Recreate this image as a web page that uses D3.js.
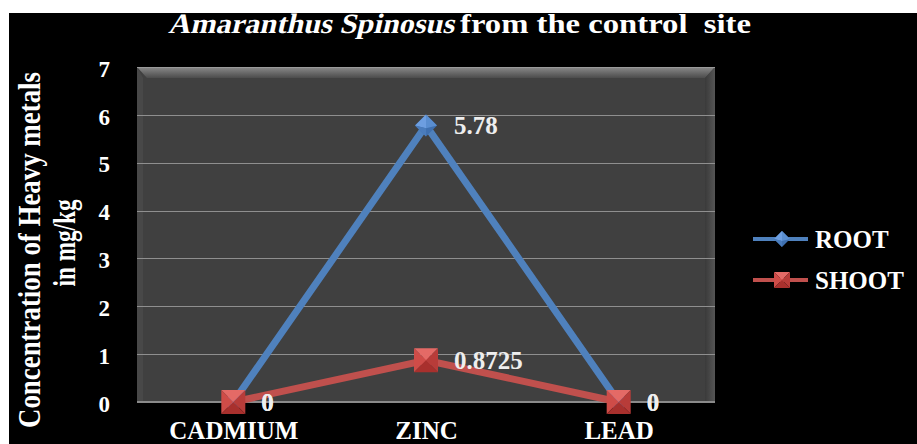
<!DOCTYPE html>
<html>
<head>
<meta charset="utf-8">
<script src="https://cdn.jsdelivr.net/npm/d3@7"></script>
<style>
  body { margin: 0; background: #fff; }
  text { font-family: "Liberation Serif", "Times New Roman", serif; font-weight: bold; }
</style>
</head>
<body>
<div id="chart"></div>
<script>
// Data
const metals = ["CADMIUM", "ZINC", "LEAD"]
const rootValues = [0, 5.78, 0]
const shootValues = [0, 0.8725, 0]
const seriesNames = ["ROOT", "SHOOT"]
const yTicks = [0, 1, 2, 3, 4, 5, 6, 7]

const width = 917, height = 444
const plot = { left: 137, right: 715, top: 67, bottom: 402 }
const colours = { ROOT: "#4f81bd", SHOOT: "#c0504d" }

const svg = d3.select("#chart").append("svg")
    .attr("width", width)
    .attr("height", height)

// black slide background (white margin on top / left like the picture)
svg.append("rect").attr("x", 9).attr("y", 13)
    .attr("width", width - 9).attr("height", height - 13)
    .attr("fill", "#000")

const defs = svg.append("defs")
const topGrad = defs.append("linearGradient").attr("id", "bevelTop")
    .attr("x1", 0).attr("y1", 0).attr("x2", 0).attr("y2", 1)
topGrad.append("stop").attr("offset", 0).attr("stop-color", "#8a8a8a")
topGrad.append("stop").attr("offset", 1).attr("stop-color", "#4c4c4c")
const sideGrad = defs.append("linearGradient").attr("id", "bevelRight")
    .attr("x1", 0).attr("y1", 0).attr("x2", 1).attr("y2", 0)
sideGrad.append("stop").attr("offset", 0).attr("stop-color", "#3a3a3a")
sideGrad.append("stop").attr("offset", 1).attr("stop-color", "#555")

// scales
const x = d3.scalePoint().domain(metals).range([plot.left, plot.right]).padding(0.5)
const y = d3.scaleLinear().domain([0, 7]).range([plot.bottom, plot.top])

// plot area with bevel
const bevel = 10
svg.append("rect").attr("x", plot.left).attr("y", plot.top)
    .attr("width", plot.right - plot.left).attr("height", plot.bottom - plot.top)
    .attr("fill", "#404040")
svg.append("polygon")
    .attr("points", [[plot.left, plot.top], [plot.right, plot.top],
        [plot.right - bevel, plot.top + bevel + 1], [plot.left + bevel, plot.top + bevel + 1]].join(" "))
    .attr("fill", "url(#bevelTop)")
svg.append("polygon")
    .attr("points", [[plot.right, plot.top], [plot.right, plot.bottom],
        [plot.right - bevel, plot.bottom], [plot.right - bevel, plot.top + bevel + 1]].join(" "))
    .attr("fill", "url(#bevelRight)")
svg.append("polygon")
    .attr("points", [[plot.left, plot.top], [plot.left + 6, plot.top + bevel + 1],
        [plot.left + 6, plot.bottom], [plot.left, plot.bottom]].join(" "))
    .attr("fill", "#484848")
svg.append("line").attr("x1", plot.left).attr("x2", plot.right)
    .attr("y1", plot.top + 0.5).attr("y2", plot.top + 0.5)
    .attr("stroke", "#9a9a9a").attr("stroke-width", 1)

// gridlines
svg.append("g").selectAll("line").data(yTicks.filter(d => d > 0 && d < 7)).join("line")
    .attr("x1", plot.left).attr("x2", plot.right)
    .attr("y1", d => Math.round(y(d)) + 0.5).attr("y2", d => Math.round(y(d)) + 0.5)
    .attr("stroke", "#8f8f8f").attr("stroke-width", 1.2)
svg.append("line").attr("x1", plot.left).attr("x2", plot.right)
    .attr("y1", plot.bottom).attr("y2", plot.bottom)
    .attr("stroke", "#8a8a8a").attr("stroke-width", 2)

// y axis
const yAxis = d3.axisLeft(y).tickValues(yTicks).tickFormat(d3.format("d")).tickSize(0).tickPadding(0)
const gy = svg.append("g").attr("transform", "translate(110,0)").call(yAxis)
gy.select(".domain").remove()
gy.selectAll("text")
    .attr("fill", "#fff").attr("dy", "0.4em")
    .style("font-size", "23px").style("font-family", "Liberation Serif, serif").style("font-weight", "bold")

// x axis labels
const xAxis = d3.axisBottom(x).tickSize(0).tickPadding(0)
const gx = svg.append("g").attr("transform", "translate(0,439)").call(xAxis)
gx.select(".domain").remove()
gx.selectAll("text")
    .attr("fill", "#fff").attr("dy", 0)
    .style("font-size", "25px").style("font-family", "Liberation Serif, serif").style("font-weight", "bold")

// title: italic part drawn as skewed serif, then the upright part
svg.append("text")
    .attr("transform", "translate(168,33) skewX(-13)")
    .attr("fill", "#fff")
    .style("font-family", "Liberation Serif, serif")
    .style("font-size", "28px")
    .attr("textLength", 286).attr("lengthAdjust", "spacingAndGlyphs")
    .text("Amaranthus Spinosus")
svg.append("text").attr("x", 460).attr("y", 33)
    .attr("fill", "#fff")
    .style("font-family", "Liberation Serif, serif")
    .style("font-size", "28px")
    .attr("textLength", 291).attr("lengthAdjust", "spacingAndGlyphs")
    .text("from the control\u00a0 site")

// y axis title
const yTitle = svg.append("g").attr("transform", "translate(40,250) rotate(-90)")
yTitle.append("text").attr("text-anchor", "middle").attr("fill", "#fff")
    .style("font-size", "31px")
    .attr("textLength", 356).attr("lengthAdjust", "spacingAndGlyphs")
    .text("Concentration of Heavy metals")
const yTitle2 = svg.append("g").attr("transform", "translate(75,243) rotate(-90)")
yTitle2.append("text").attr("text-anchor", "middle").attr("fill", "#fff")
    .style("font-size", "31px")
    .attr("textLength", 87).attr("lengthAdjust", "spacingAndGlyphs")
    .text("in mg/kg")

// series
const series = [
    { name: "ROOT", values: rootValues },
    { name: "SHOOT", values: shootValues }
]
const line = d3.line().x((d, i) => x(metals[i])).y(d => y(d))

function drawDiamond(g, s) {
    g.append("path").attr("d", `M0,${-s}L${s},0L0,${s}L${-s},0Z`).attr("fill", "#3f70b0")
    g.append("path").attr("d", `M0,${-s}L${s},0L0,${s * 0.25}Z`).attr("fill", "#5a8ed0")
    g.append("path").attr("d", `M0,${-s}L${-s},0L0,${s * 0.25}Z`).attr("fill", "#6d9ee0")
    g.append("path").attr("d", `M${-s},0L0,${s * 0.25}L0,${s}Z`).attr("fill", "#4a7cbc")
}
function drawSquare(g, s) {
    g.append("path").attr("d", `M${-s},${-s}L${s},${-s}L0,0Z`).attr("fill", "#e46a66")
    g.append("path").attr("d", `M${-s},${-s}L${-s},${s}L0,0Z`).attr("fill", "#cf4c48")
    g.append("path").attr("d", `M${s},${-s}L${s},${s}L0,0Z`).attr("fill", "#b83c39")
    g.append("path").attr("d", `M${-s},${s}L${s},${s}L0,0Z`).attr("fill", "#a8302d")
}

series.forEach(ser => {
    svg.append("path").datum(ser.values)
        .attr("d", line)
        .attr("fill", "none")
        .attr("stroke", colours[ser.name])
        .attr("stroke-width", 7)
        .attr("stroke-linejoin", "miter")
})
series.forEach(ser => {
    ser.values.forEach((v, i) => {
        const g = svg.append("g").attr("transform", `translate(${x(metals[i])},${y(v)})`)
        if (ser.name == "ROOT") drawDiamond(g, 11)
        else drawSquare(g, 12)
    })
})
// data labels
series.forEach(ser => {
    svg.append("g").selectAll("text").data(ser.values).join("text")
        .attr("x", (d, i) => x(metals[i]) + 28)
        .attr("y", d => y(d))
        .attr("dy", "0.36em")
        .attr("fill", "#eee")
        .style("font-size", "25px")
        .text(d => d)
})

// legend
const legend = svg.append("g").attr("transform", "translate(753,239)")
seriesNames.forEach((name, i) => {
    const lg = legend.append("g").attr("transform", `translate(0,${i * 41})`)
    lg.append("line").attr("x1", 0).attr("x2", 55)
        .attr("stroke", colours[name]).attr("stroke-width", 4)
    const m = lg.append("g").attr("transform", "translate(29,0)")
    if (name == "ROOT") drawDiamond(m, 8)
    else drawSquare(m, 8)
    lg.append("text").attr("x", 62).attr("dy", "0.36em")
        .attr("fill", "#fff").style("font-size", "25px")
        .text(name)
})
</script>
</body>
</html>
